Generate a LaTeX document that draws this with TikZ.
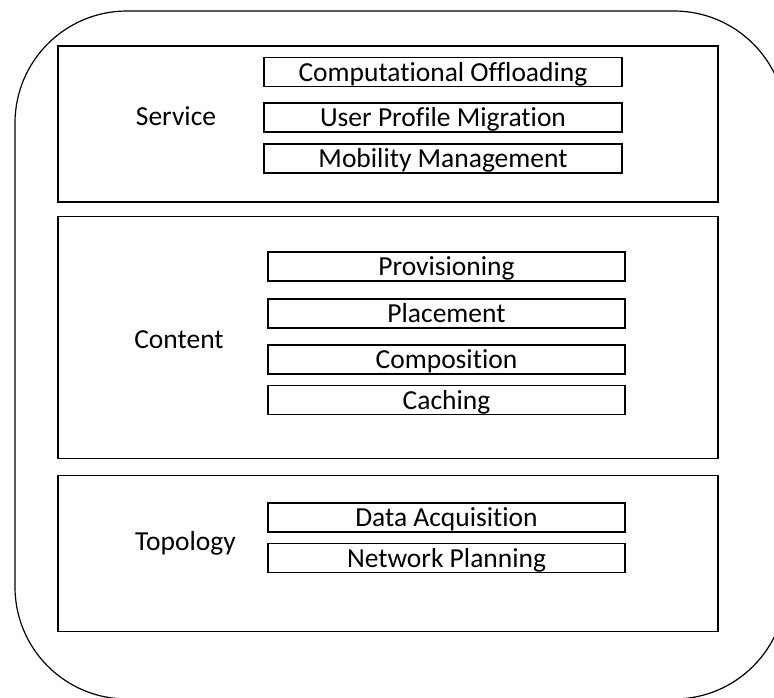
\documentclass[tikz,border=0pt]{standalone}
\usepackage{fontspec}
\setmainfont{Carlito}[Ligatures=NoCommon]
\usetikzlibrary{positioning}

\begin{document}
\begin{tikzpicture}[x=1pt, y=-1pt, line width=1.2pt,
  layer/.style={draw, line width=1.3pt, inner sep=0pt},
  layername/.style={anchor=base, inner sep=0pt, font=\fontsize{27.5}{30}\selectfont},
  task/.style={draw, line width=1.3pt, inner sep=0pt, minimum height=29pt,
    text height=18pt, text depth=0pt, font=\fontsize{27.5}{30}\selectfont}]
\clip (0,0) rectangle (774,697);
\fill[white] (0,0) rectangle (774,697);
%% outer frame
\draw[rounded corners=112pt] (15,11) rectangle (786,699);

%% service layer
\node[layer, minimum width=660pt, minimum height=156pt] (service) at (388,124) {};
\node[layername] (servicelbl) at (176,125) {Service};
\node[task, minimum width=358pt] (offload) at (443,72) {Computational Offloading};
\node[task, minimum width=358pt] (profile) at (443,117.5) {User Profile Migration};
\node[task, minimum width=358pt] (mobility) at (443,158.5) {Mobility Management};

%% content layer
\node[layer, minimum width=660pt, minimum height=242pt] (content) at (388,337.5) {};
\node[layername] (contentlbl) at (179,348) {Content};
\node[task, minimum width=357pt] (provision) at (446.5,266.5) {Provisioning};
\node[task, minimum width=357pt] (placement) at (446.5,313.5) {Placement};
\node[task, minimum width=357pt] (composition) at (446.5,359.5) {Composition};
\node[task, minimum width=357pt] (caching) at (446.5,400) {Caching};

%% topology layer
\node[layer, minimum width=660pt, minimum height=156pt] (topology) at (388,553.5) {};
\node[layername] (topologylbl) at (185.5,550) {Topology};
\node[task, minimum width=357pt] (acquire) at (446.5,517.5) {Data Acquisition};
\node[task, minimum width=357pt] (planning) at (446.5,558) {Network Planning};
\end{tikzpicture}
\end{document}
